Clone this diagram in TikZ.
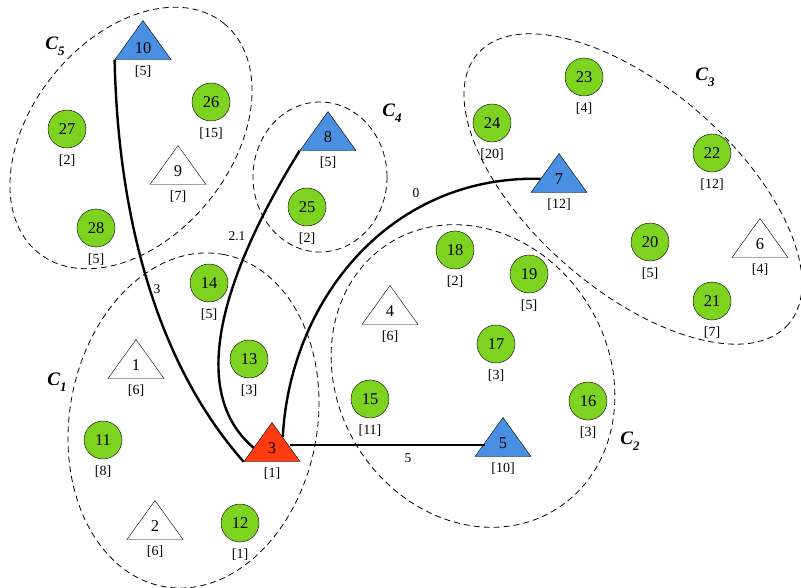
\documentclass[tikz,border=0pt]{standalone}
\usepackage{fontspec}
\setmainfont{Liberation Serif}
\usetikzlibrary{shapes.geometric}
\usetikzlibrary{positioning}

\definecolor{nodegreen}{RGB}{126,211,33}
\definecolor{headblue}{RGB}{74,144,226}
\definecolor{sinkred}{RGB}{255,59,16}

\newcommand{\ctag}[1]{\bfseries\itshape C\raisebox{-0.3em}{\fontsize{13}{13}\selectfont #1}}

\begin{document}
\begin{tikzpicture}[x=1pt,y=-1pt]
\tikzstyle{every node}=[font=\fontsize{16.5}{17}\selectfont]
\tikzstyle{member}=[circle,draw,fill=nodegreen,minimum size=38pt,inner sep=0pt]
\tikzstyle{head}=[isosceles triangle,isosceles triangle stretches,shape border rotate=90,draw,minimum width=56pt,minimum height=39pt,inner sep=0pt,anchor=apex]
\tikzstyle{cost}=[font=\fontsize{14}{15}\selectfont,inner sep=1pt]
\tikzstyle{wt}=[font=\fontsize{13.5}{14}\selectfont,inner sep=1pt]
\tikzstyle{cluster}=[dash pattern=on 6pt off 4pt,line width=0.8pt]
\tikzstyle{link}=[line width=2.4pt]
\tikzstyle{tag}=[font=\fontsize{19}{19}\selectfont]
\useasboundingbox (0,0) rectangle (801,588);

% Clusters
\draw[cluster,rotate around={51:(131,138)}] (131,138) ellipse [x radius=147.5,y radius=100];
\draw[cluster] (320,177) ellipse [x radius=67,y radius=75];
\draw[cluster,rotate around={-41:(633,189)}] (633,189) ellipse [x radius=206,y radius=101];
\draw[cluster,rotate around={-58:(473,376)}] (473,376) ellipse [x radius=157,y radius=135.5];
\draw[cluster,rotate around={80:(193.5,420.5)}] (193.5,420.5) ellipse [x radius=168.7,y radius=123.9];
\node[tag] (c5) at (55,46) {\ctag{5}};
\node[tag] (c4) at (392,113) {\ctag{4}};
\node[tag] (c3) at (705,77) {\ctag{3}};
\node[tag] (c2) at (630,441) {\ctag{2}};
\node[tag] (c1) at (57,382) {\ctag{1}};

% Members
\foreach \n/\x/\y/\c in {27/67/129/2, 26/211/102/15, 28/96/228/5, 25/307/207/2,
  24/492/123/20, 23/584/77/4, 22/712/153/12, 20/650/242/5, 21/712/301/7,
  19/529/274/5, 18/455/250/2, 17/496/344/3, 15/370/399/11, 16/588/401/3,
  14/209/283/5, 13/249/359/3, 11/103/440/8, 12/240/523/1}{
  \node[member] (n\n) at (\x,\y) {\n};
  \node[cost,below=5.5pt of n\n] (k\n) {[\c]};
}

% Heads
\foreach \n/\x/\y/\f/\c in {10/143/20/headblue/5, 9/178/145/white/7, 8/328/111/headblue/5,
  7/559/153/headblue/12, 6/760/218/white/4, 4/390/285/white/6, 5/503/417/headblue/10,
  3/272/422/sinkred/1, 1/136/339/white/6, 2/155/500/white/6}{
  \node[head,fill=\f] (t\n) at (\x,\y) {\n};
  \node[cost,below=5pt of t\n] (k\n) {[\c]};
}

% Links
\draw[link] (t10.left corner) .. controls (118,220) and (158,365) .. (t3.left corner);
\draw[link] (t8.left corner) .. controls (235,255) and (180,385) .. (t3.west);
\draw[link] (t7.west) .. controls (390,175) and (290,300) .. (t3.north east);
\draw[link] ([yshift=3pt]t3.east) -- ([yshift=3pt]t3.east -| t5.west);
\node[wt] (w10) at (157,289) {3};
\node[wt] (w8) at (237,236) {2.1};
\node[wt] (w7) at (416,193) {0};
\node[wt] (w5) at (408,458) {5};
\end{tikzpicture}
\end{document}
